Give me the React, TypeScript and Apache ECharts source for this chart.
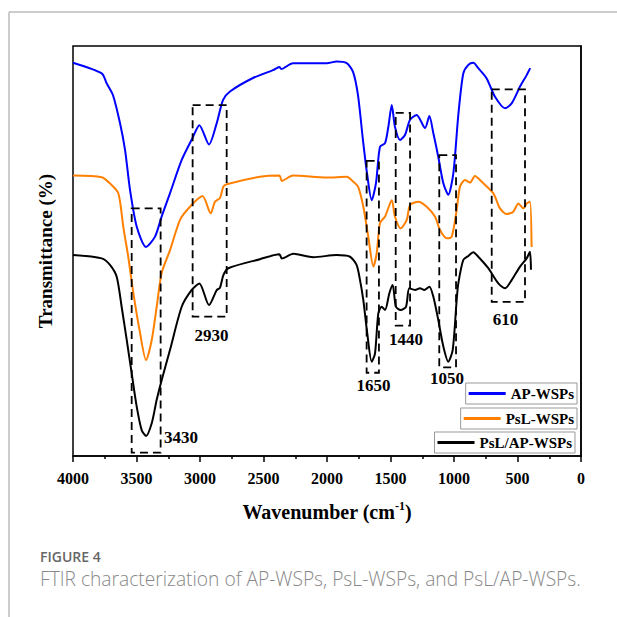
import React, { useEffect, useRef } from "react";
import * as echarts from "echarts";

// Wavenumber (cm-1) and transmittance (a.u., 0-100)
const apWn = [4000, 3774, 3735, 3685, 3630, 3590, 3551, 3498, 3425, 3354, 3302, 3236, 3144, 3060, 3005, 2929, 2868, 2819, 2764, 2583, 2425, 2375, 2360, 2268, 2002, 1924, 1845, 1795, 1756, 1717, 1685, 1648, 1614, 1583, 1543, 1517, 1490, 1465, 1425, 1386, 1346, 1294, 1228, 1194, 1163, 1124, 1084, 1045, 1005, 966, 927, 887, 848, 809, 743, 677, 598, 546, 480, 428, 400];
const apT = [95.9, 93.3, 90.9, 88.0, 81.2, 74.6, 64.9, 55.9, 51.0, 53.5, 58.4, 64.1, 72.2, 77.5, 80.7, 76.0, 81.2, 86.8, 88.9, 92.2, 94.1, 94.9, 94.4, 95.8, 95.8, 96.2, 95.8, 93.7, 88.0, 77.1, 69.0, 62.4, 66.6, 75.4, 76.3, 80.3, 85.6, 80.3, 77.1, 78.3, 82.0, 83.2, 80.0, 82.9, 78.8, 73.0, 66.5, 63.7, 69.0, 83.2, 93.3, 95.4, 95.9, 94.6, 92.1, 87.6, 84.8, 86.0, 90.1, 92.9, 94.6];

const pslWn = [4000, 3774, 3709, 3643, 3604, 3565, 3525, 3472, 3425, 3380, 3341, 3302, 3236, 3157, 3079, 2980, 2916, 2882, 2843, 2816, 2790, 2528, 2375, 2356, 2268, 2002, 1845, 1793, 1754, 1714, 1675, 1635, 1609, 1583, 1543, 1490, 1465, 1420, 1372, 1346, 1281, 1215, 1150, 1110, 1057, 1018, 979, 953, 913, 874, 835, 782, 691, 638, 585, 533, 493, 454, 428, 402, 389];
const pslT = [68.4, 68.0, 66.5, 64.1, 55.9, 48.6, 39.8, 30.0, 23.4, 28.3, 36.4, 44.6, 50.2, 57.6, 60.8, 63.4, 59.2, 62.0, 62.9, 65.7, 66.3, 68.1, 68.4, 67.1, 68.4, 67.9, 68.1, 66.9, 65.6, 60.8, 53.5, 46.2, 49.4, 56.8, 58.4, 62.4, 58.4, 55.5, 57.6, 61.2, 62.0, 60.8, 58.4, 55.1, 53.1, 53.5, 60.0, 65.7, 67.3, 66.7, 68.3, 66.9, 64.1, 60.4, 59.0, 59.6, 61.6, 60.4, 61.6, 62.0, 51.0];

const mixWn = [4000, 3774, 3709, 3656, 3617, 3577, 3538, 3498, 3459, 3425, 3380, 3341, 3302, 3236, 3144, 3065, 3005, 2929, 2868, 2843, 2816, 2777, 2528, 2375, 2356, 2265, 2108, 1924, 1819, 1767, 1740, 1714, 1683, 1648, 1622, 1596, 1570, 1543, 1509, 1483, 1457, 1420, 1378, 1352, 1307, 1268, 1234, 1194, 1163, 1124, 1084, 1045, 1010, 979, 966, 927, 887, 848, 809, 730, 651, 598, 546, 480, 428, 402, 394];
const mixT = [49.0, 48.2, 46.6, 43.7, 36.4, 28.3, 20.2, 12.0, 6.3, 4.9, 8.0, 13.7, 18.5, 25.9, 36.4, 40.5, 42.1, 36.8, 40.5, 41.0, 44.1, 45.8, 48.0, 49.2, 48.2, 49.3, 48.5, 49.0, 48.6, 46.6, 42.9, 38.0, 29.9, 23.0, 25.0, 34.8, 36.4, 35.6, 39.7, 41.7, 36.4, 35.6, 36.4, 40.9, 40.5, 40.9, 40.5, 41.3, 38.9, 33.2, 26.7, 23.0, 25.9, 38.0, 42.1, 47.8, 48.8, 49.7, 48.6, 45.8, 42.1, 40.9, 42.9, 46.2, 48.2, 49.8, 45.4];

const seriesNames = ["AP-WSPs", "PsL-WSPs", "PsL/AP-WSPs"];
const xTickValues = [4000, 3500, 3000, 2500, 2000, 1500, 1000, 500, 0];

// Annotation boxes: [wn left, wn right, T top, T bottom]
const boxes = [
  [3538, 3310, 60.4, 0.8],
  [3058, 2790, 85.6, 34.0],
  [1688, 1591, 72.0, 20.3],
  [1459, 1346, 83.7, 31.8],
  [1116, 984, 73.4, 21.6],
  [703, 441, 89.4, 37.6],
];
// Peak labels: text, wavenumber, transmittance
const peakLabels = ["3430", "2930", "1650", "1440", "1050", "610"];
const peakLabelWn = [3150, 2909, 1634, 1378, 1055, 594];
const peakLabelT = [4.4, 29.3, 17.3, 28.5, 18.8, 33.2];

const serif = "'Liberation Serif', 'Times New Roman', serif";

export default function App() {
  const ref = useRef<HTMLDivElement>(null);
  useEffect(() => {
    if (!ref.current) return;
    const chart = echarts.init(ref.current, null, { renderer: "svg" });
    const mk = (w: number[], t: number[]) => w.map((x, i) => [x, t[i]]);
    const colors = ["#0000ff", "#ff8000", "#000000"];
    const lineData = [mk(apWn, apT), mk(pslWn, pslT), mk(mixWn, mixT)];
    const legendTops = [383, 408, 432];
    const legendRights = [40, 40, 42];
    const option: any = {
      animation: false,
      grid: { left: 73, right: 36, top: 46, bottom: 161, show: true, borderColor: "#000", borderWidth: 1.5 },
      xAxis: {
        type: "value",
        min: 0,
        max: 4000,
        interval: 500,
        inverse: true,
        axisLine: { show: true, lineStyle: { color: "#000", width: 1.5 } },
        axisTick: { show: true, inside: false, length: 6, lineStyle: { color: "#000", width: 1.5 } },
        minorTick: { show: true, splitNumber: 2, length: 3, lineStyle: { color: "#000", width: 1.5 } },
        splitLine: { show: false },
        axisLabel: {
          margin: 14,
          color: "#000",
          fontFamily: serif,
          fontWeight: "bold",
          fontSize: 16,
          formatter: (v: number) => (xTickValues.includes(v) ? String(v) : ""),
        },
        name: "{a|Wavenumber (cm}{s|-1}{a|)}",
        nameLocation: "middle",
        nameGap: 44,
        nameTextStyle: {
          rich: {
            a: { fontFamily: serif, fontWeight: "bold", fontSize: 20, color: "#000", lineHeight: 24 },
            s: { fontFamily: serif, fontWeight: "bold", fontSize: 12, color: "#000", verticalAlign: "top", lineHeight: 24, padding: [0, 0, 10, 0] },
          },
        },
      },
      yAxis: {
        type: "value",
        min: 0,
        max: 100,
        axisLine: { show: true, lineStyle: { color: "#000", width: 1.5 } },
        axisTick: { show: false },
        axisLabel: { show: false },
        splitLine: { show: false },
        name: "Transmittance (%)",
        nameLocation: "middle",
        nameGap: 18,
        nameTextStyle: { fontFamily: serif, fontWeight: "bold", fontSize: 19, color: "#000" },
      },
      legend: seriesNames.map((n, i) => ({
        data: [n],
        right: legendRights[i],
        top: legendTops[i],
        orient: "horizontal",
        icon: "rect",
        borderColor: "#999",
        borderWidth: 1,
        padding: [3, 3, 3, 3],
        itemWidth: 37,
        itemHeight: 3,
        textStyle: { fontFamily: serif, fontWeight: "bold", fontSize: 15, color: "#000" },
      })),
      series: [
        ...seriesNames.map((n, i) => ({
          name: n,
          type: "line",
          data: lineData[i],
          symbol: "none",
          smooth: 0.25,
          color: colors[i],
          lineStyle: { color: colors[i], width: 2 },
          z: 3 - i,
        })),
        {
          name: "boxes",
          type: "custom",
          data: boxes,
          encode: { x: [0, 1], y: [2, 3] },
          z: 5,
          renderItem: (params: any, api: any) => {
            const p1 = api.coord([api.value(0), api.value(2)]);
            const p2 = api.coord([api.value(1), api.value(3)]);
            return {
              type: "rect",
              shape: {
                x: Math.min(p1[0], p2[0]),
                y: Math.min(p1[1], p2[1]),
                width: Math.abs(p2[0] - p1[0]),
                height: Math.abs(p2[1] - p1[1]),
              },
              style: { fill: "none", stroke: "#000", lineWidth: 1.8, lineDash: [8, 5] },
            };
          },
        },
        {
          name: "peaks",
          type: "custom",
          data: peakLabelWn.map((w, i) => [w, peakLabelT[i]]),
          encode: { x: 0, y: 1 },
          z: 6,
          renderItem: (params: any, api: any) => {
            const p = api.coord([api.value(0), api.value(1)]);
            return {
              type: "text",
              x: p[0],
              y: p[1],
              style: {
                text: peakLabels[params.dataIndex],
                fill: "#000",
                font: `bold 17px ${serif}`,
                align: "center",
                verticalAlign: "middle",
              },
            };
          },
        },
      ],
      graphic: [
        { type: "line", shape: { x1: 9, y1: 12, x2: 617, y2: 12 }, style: { stroke: "#bbbbbb", lineWidth: 1.5 } },
        { type: "line", shape: { x1: 9, y1: 12, x2: 9, y2: 617 }, style: { stroke: "#bbbbbb", lineWidth: 1.5 } },
        {
          type: "text",
          left: 40,
          top: 549,
          style: { text: "FIGURE 4", fill: "#666", font: "600 14px 'Open Sans', sans-serif" },
        },
        {
          type: "text",
          left: 40,
          top: 569,
          style: {
            text: "FTIR characterization of AP-WSPs, PsL-WSPs, and PsL/AP-WSPs.",
            fill: "#888",
            font: "300 19.2px 'Open Sans', sans-serif",
          },
        },
      ],
    };
    chart.setOption(option);
    return () => chart.dispose();
  }, []);
  return <div ref={ref} style={{ position: "absolute", left: 0, top: 0, width: 617, height: 617 }} />;
}
